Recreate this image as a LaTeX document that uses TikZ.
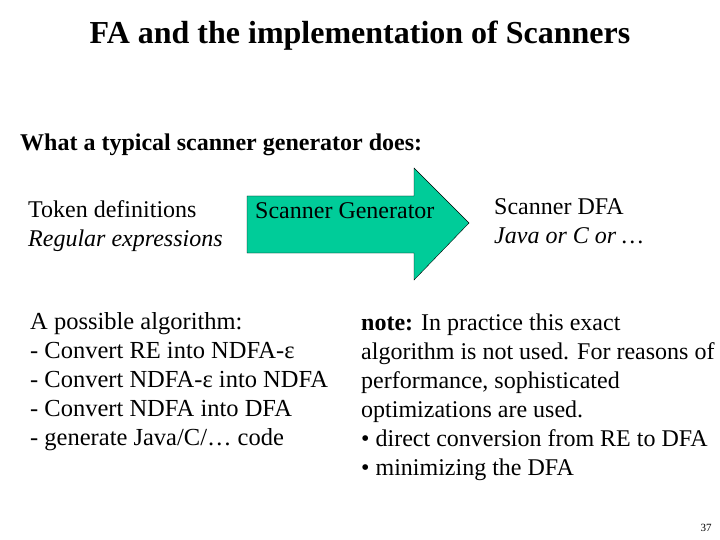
\documentclass[tikz,border=0pt]{standalone}
\usepackage{fontspec}
\setmainfont{Liberation Serif}
\begin{document}
\begin{tikzpicture}[x=1pt,y=-1pt,
  txt/.style={anchor=west,inner sep=0pt,align=left,font=\fontsize{24}{29}\selectfont}]
\useasboundingbox (0,0) rectangle (720,540);
\node[anchor=center,inner sep=0pt,font=\bfseries\fontsize{32}{36}\selectfont] (title) at (360,36) {FA and the implementation of Scanners};
\node[txt,font=\bfseries\fontsize{24}{28}\selectfont] (what) at (20,145) {What a typical scanner generator does:};
\path[draw=black,fill={rgb,255:red,0;green,204;blue,153}] (247,196) -- (414,196) -- (414,168) -- (469,223) -- (414,280) -- (414,253) -- (247,253) -- cycle;
\node[txt] (gen) at (255,211) {Scanner Generator};
\node[txt] (tok) at (28,226) {Token definitions\\\textit{Regular expressions}};
\node[txt] (dfa) at (494,221) {Scanner DFA\\\textit{Java or C or \dots}};
\node[txt,font=\fontsize{24.5}{29}\selectfont] (alg) at (30,382) {A possible algorithm:\\ - Convert RE into NDFA-ε\\ - Convert NDFA-ε into NDFA\\ - Convert NDFA into DFA\\ - generate Java/C/\dots{} code};
\node[txt] (note) at (361,397) {\textbf{note:} In practice this exact\\algorithm is not used. For reasons of\\performance, sophisticated\\optimizations are used.\\• direct conversion from RE to DFA\\• minimizing the DFA};
\node[anchor=center,inner sep=0pt,font=\fontsize{11}{12}\selectfont] (pg) at (706,528) {37};
\end{tikzpicture}
\end{document}
